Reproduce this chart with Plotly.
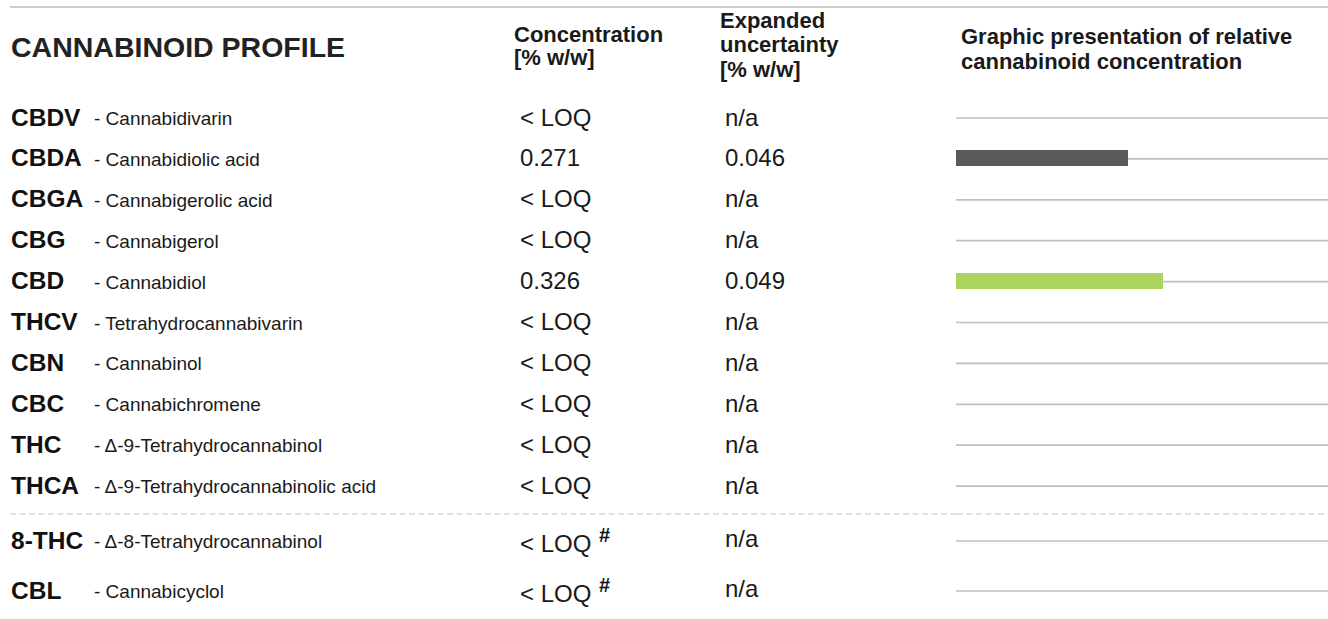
import plotly.graph_objects as go

# ---------------- data ----------------
abbrevs = ["CBDV", "CBDA", "CBGA", "CBG", "CBD", "THCV", "CBN", "CBC",
           "THC", "THCA", "8-THC", "CBL"]
names = ["Cannabidivarin", "Cannabidiolic acid", "Cannabigerolic acid",
         "Cannabigerol", "Cannabidiol", "Tetrahydrocannabivarin",
         "Cannabinol", "Cannabichromene", "Δ-9-Tetrahydrocannabinol",
         "Δ-9-Tetrahydrocannabinolic acid", "Δ-8-Tetrahydrocannabinol",
         "Cannabicyclol"]
concentration = [None, 0.271, None, None, 0.326, None, None, None,
                 None, None, None, None]
conc_labels = ["&lt; LOQ", "0.271", "&lt; LOQ", "&lt; LOQ", "0.326",
               "&lt; LOQ", "&lt; LOQ", "&lt; LOQ", "&lt; LOQ", "&lt; LOQ",
               "&lt; LOQ", "&lt; LOQ"]
conc_marks = ["", "", "", "", "", "", "", "", "", "", "#", "#"]
uncert_labels = ["n/a", "0.046", "n/a", "n/a", "0.049", "n/a", "n/a",
                 "n/a", "n/a", "n/a", "n/a", "n/a"]
title_text = "CANNABINOID PROFILE"
hdr_conc = ["Concentration", "[% w/w]"]
hdr_unc = ["Expanded", "uncertainty", "[% w/w]"]
hdr_graph = ["Graphic presentation of relative", "cannabinoid concentration"]

# ---------------- style / layout ----------------
W, H = 1328, 619
FONT = "Liberation Sans, Arial, Helvetica, sans-serif"
TXT = "#1a1a1a"
bar_colors = {"CBDA": "#5a5a5a", "CBD": "#add45f"}
X_MAX = 0.587
BAR_X0 = 956

# vertical pixel positions of rows (main block + separated block)
row_y = []
for i in range(len(abbrevs)):
    if i < 10:
        row_y.append(117 + 40.9 * i)
    else:
        row_y.append(540 + 50 * (i - 10))

def px(x):
    return x / W

fig = go.Figure()

vals = [v if v is not None else 0 for v in concentration]
cols = [bar_colors.get(a, "#5a5a5a") for a in abbrevs]
fig.add_trace(go.Bar(
    x=vals, y=row_y, orientation="h", width=16,
    marker=dict(color=cols, line=dict(width=0)),
    hoverinfo="skip", showlegend=False,
))

shapes = []
# top rule
shapes.append(dict(type="line", xref="paper", yref="y", x0=px(10), x1=1,
                   y0=7, y1=7, line=dict(color="#cccccc", width=2), layer="below"))
# row baselines in graphic column
for y in row_y:
    shapes.append(dict(type="line", xref="paper", yref="y", x0=px(BAR_X0), x1=1,
                       y0=y + 1, y1=y + 1, line=dict(color="#c0c0c0", width=1.7),
                       layer="below"))
# dashed separator
sep_y = 514
shapes.append(dict(type="line", xref="paper", yref="y", x0=px(10), x1=px(957),
                   y0=sep_y, y1=sep_y, line=dict(color="#d6d6d6", width=1.5, dash="6px,3.5px"),
                   layer="below"))
shapes.append(dict(type="line", xref="paper", yref="y", x0=px(957), x1=1,
                   y0=sep_y, y1=sep_y, line=dict(color="#d6d6d6", width=1.5, dash="6px,3.5px"),
                   layer="below"))

ann = []
def add(text, x, y, size, bold=False, color=TXT):
    t = f"<b>{text}</b>" if bold else text
    ann.append(dict(text=t, x=px(x), y=y, xref="paper", yref="y",
                    xanchor="left", yanchor="middle", showarrow=False,
                    font=dict(family=FONT, size=size, color=color)))

add(title_text, 9, 47, 28.5, bold=True, color="#222222")
for t, y in zip(hdr_conc, [34, 57]):
    add(t, 512, y, 22, bold=True)
for t, y in zip(hdr_unc, [20, 44, 69]):
    add(t, 718, y, 22, bold=True)
for t, y in zip(hdr_graph, [36, 61]):
    add(t, 959, y, 22, bold=True)

for a, n, c, m, u, y in zip(abbrevs, names, conc_labels, conc_marks,
                            uncert_labels, row_y):
    add(a, 9, y, 24.5, bold=True, color="#111111")
    add("- " + n, 92, y + 1.5, 19)
    if m:
        add(c, 518, y + 3, 24)
        add(m, 597, y - 5, 20, bold=True, color="#111111")
        add(u, 723, y - 2, 24)
    else:
        add(c, 518, y, 24)
        add(u, 723, y, 24)

fig.update_layout(
    width=W, height=H, margin=dict(l=0, r=0, t=0, b=0),
    paper_bgcolor="white", plot_bgcolor="white",
    xaxis=dict(domain=[px(BAR_X0), 1], range=[0, X_MAX], visible=False, fixedrange=True),
    yaxis=dict(domain=[0, 1], range=[H, 0], visible=False, fixedrange=True),
    shapes=shapes, annotations=ann, bargap=0,
)

fig.write_html("out.html", post_script="document.body.style.margin='0';",
               config={"displayModeBar": False})
